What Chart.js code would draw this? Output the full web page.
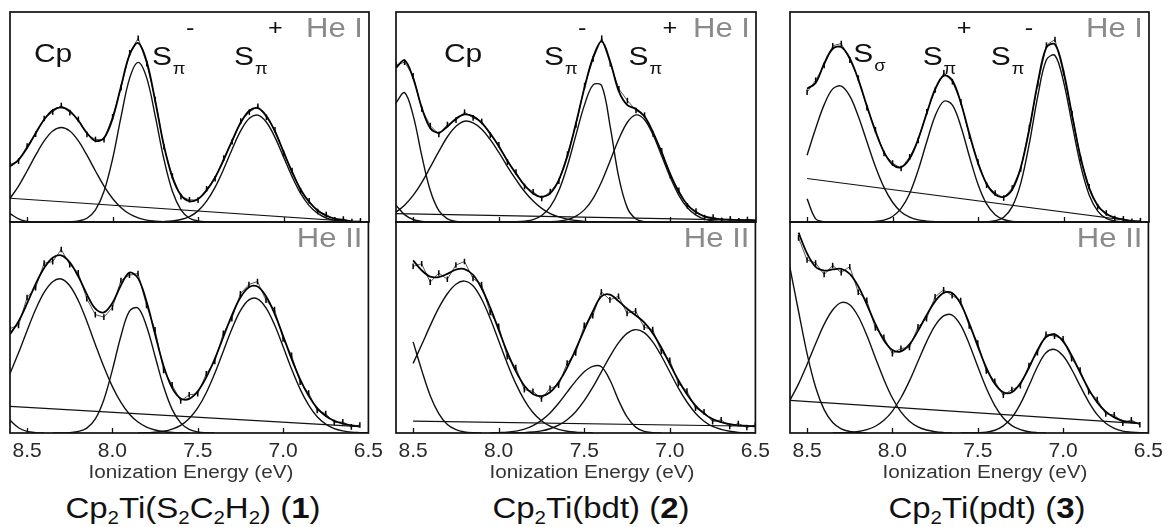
<!DOCTYPE html>
<html>
<head>
<meta charset="utf-8">
<script src="https://cdn.jsdelivr.net/npm/chart.js@4.4.1/dist/chart.umd.min.js"></script>
<style>
  html,body{margin:0;padding:0;background:#fff;}
  body{width:1167px;height:527px;position:relative;overflow:hidden;font-family:"Liberation Sans",Arial,sans-serif;}
  canvas.pc{position:absolute;}
  .ttl{position:absolute;top:463px;font-size:18px;line-height:18px;color:#333;white-space:nowrap;transform:translateX(-50%) scaleX(1.15);}
  .nm{position:absolute;top:493px;font-size:30px;line-height:30px;color:#111;white-space:nowrap;transform:translateX(-50%) scaleX(1.1);}
  .nm sub{font-size:62%;position:relative;top:0.32em;vertical-align:baseline;line-height:0;}
</style>
</head>
<body>
<canvas class="pc" id="c1a"></canvas>
<canvas class="pc" id="c1b"></canvas>
<canvas class="pc" id="c2a"></canvas>
<canvas class="pc" id="c2b"></canvas>
<canvas class="pc" id="c3a"></canvas>
<canvas class="pc" id="c3b"></canvas>
<div class="ttl" style="left:191px">Ionization Energy (eV)</div>
<div class="ttl" style="left:592px">Ionization Energy (eV)</div>
<div class="ttl" style="left:985px">Ionization Energy (eV)</div>
<div class="nm" style="left:193px">Cp<sub>2</sub>Ti(S<sub>2</sub>C<sub>2</sub>H<sub>2</sub>) (<b>1</b>)</div>
<div class="nm" style="left:591px">Cp<sub>2</sub>Ti(bdt) (<b>2</b>)</div>
<div class="nm" style="left:987px">Cp<sub>2</sub>Ti(pdt) (<b>3</b>)</div>
<script>
// ---------- shared axis data ----------
const energies = [8.60,8.55,8.50,8.45,8.40,8.35,8.30,8.25,8.20,8.15,8.10,8.05,8.00,7.95,7.90,7.85,7.80,7.75,7.70,7.65,7.60,7.55,7.50,7.45,7.40,7.35,7.30,7.25,7.20,7.15,7.10,7.05,7.00,6.95,6.90,6.85,6.80,6.75,6.70,6.65,6.60,6.55,6.50];
const tickValues = [8.5, 8.0, 7.5, 7.0, 6.5];
const innerTickValues = [8.5, 8.0, 7.5, 7.0];

// ---------- compound 1, He I ----------
const c1HeI_tail = [4, 1.5, 0.3, 0];
const c1HeI_cp = [11.2,17.1,24.3,31.8,38.6,43.3,45.0,43.3,38.6,31.8,24.3,17.1,11.2,6.8,3.8,2.0,0.9,0.4,0.1,0];
const c1HeI_spiMinus = [null,null,null,null,null,0,0,0.1,0.5,1.8,5.8,14.6,30.0,50.3,68.5,76.0,68.5,50.3,30.0,14.6,5.8,1.8,0.5,0.1,0];
const c1HeI_spiPlus = [null,null,null,null,null,null,null,null,null,null,null,null,null,null,null,null,0,0.1,0.2,0.5,1.2,2.6,5.3,9.9,16.6,25.2,34.8,43.5,49.4,50.9,47.5,40.3,31.0,21.6,13.6,7.8,4.1,1.9,0.8,0.3,0.1,0,0];
const c1HeI_baseE = [8.6, 6.55];
const c1HeI_baseY = [11.3, 0];
const c1HeI_fit = [26.5,29.6,35.3,42.3,48.8,53.2,54.6,52.8,48.2,42.4,38.6,40.0,49.2,64.8,79.7,85.2,76.3,57.4,36.5,21.2,12.8,9.9,11.0,15.0,21.3,29.6,38.9,47.4,53.0,54.2,50.5,43.1,33.5,23.8,15.5,9.5,5.5,3.0,1.6,0.9,0.3,0.0,null];
const c1HeI_data = [27.4,29.0,36.2,41.8,49.3,52.4,55.5,52.1,48.9,41.7,39.3,39.2,50.1,64.0,80.6,87.5,75.4,58.3,35.8,21.9,12.1,10.6,10.4,15.8,20.6,30.4,38.2,48.1,52.3,55.1,49.8,43.9,32.8,24.5,14.9,10.1,5.0,3.6,1.1,1.4,0.2,0.6,null];

// ---------- compound 1, He II ----------
const c1HeII_tail = [6, 2.5, 0.8, 0.2, 0];
const c1HeII_cp = [28.2,38.0,48.5,58.5,66.6,71.7,73.0,69.8,62.8,53.0,42.0,31.4,22.0,14.5,8.9,5.2,2.8,1.4,0.7,0.3,0.1,0];
const c1HeII_spiMinus = [null,null,null,null,null,0,0,0.2,0.7,2.3,6.7,15.8,29.9,46.0,57.8,59.2,50.6,36.4,22.0,11.2,4.8,1.7,0.5,0.1,0];
const c1HeII_spiPlus = [null,null,null,null,null,null,null,null,null,null,null,null,null,null,null,0,0.1,0.4,0.8,1.8,3.6,6.9,11.9,19.1,28.3,38.8,49.3,58.0,63.1,63.6,59.3,51.3,41.0,30.3,20.8,13.2,7.7,4.2,2.1,1.0,0.4,0.2,0.1];
const c1HeII_baseE = [8.6, 6.55];
const c1HeII_baseY = [12.6, 3.0];
const c1HeII_fit = [46.8,52.9,61.4,70.6,78.2,83.1,84.2,80.9,74.2,65.8,58.9,57.2,61.6,70.0,76.0,73.4,62.3,46.8,31.8,21.4,16.4,16.2,19.8,26.4,35.2,45.5,55.8,64.2,69.1,69.4,64.8,56.6,46.1,35.1,25.4,17.6,11.8,8.1,5.8,4.4,3.6,3.1,null];
const c1HeII_data = [49.5,51.0,64.2,68.9,80.5,81.2,87.0,79.8,75.9,63.6,56.1,54.9,59.4,72.3,74.8,75.6,60.5,48.9,29.7,22.8,15.2,18.1,18.6,28.0,33.9,47.3,54.2,66.0,70.4,71.8,62.9,58.5,44.6,36.8,24.1,18.9,10.7,9.2,4.9,5.3,2.9,3.8,null];

// ---------- compound 2, He I ----------
const c2HeI_tail = [8, 3.5, 1.2, 0.3, 0];
const c2HeI_high = [56.7,61.6,50.8,31.7,15.0,5.4,1.5,0.3,0];
const c2HeI_cp = [4.7,8.0,12.7,18.8,26.1,33.6,40.6,45.6,48.0,47.2,44.2,39.2,33.1,26.4,20.2,14.5,10.0,6.5,4.0,2.4,1.3,0.7,0.3,0.1,0];
const c2HeI_spiMinus = [null,null,null,null,null,null,null,null,null,null,null,null,null,0,0.1,0.4,1.1,3.1,7.3,15.0,26.8,41.5,55.9,65.3,64.9,45.2,21.1,6.6,1.4,0.2,0];
const c2HeI_spiPlus = [null,null,null,null,null,null,null,null,null,null,null,null,null,null,null,null,null,0,0.1,0.4,1.1,2.8,5.9,11.3,19.3,29.3,39.5,47.5,51.0,48.7,41.4,31.4,21.2,12.7,6.8,3.3,1.4,0.5,0.2,0];
const c2HeI_baseE = [8.6, 6.5];
const c2HeI_baseY = [4.0, 0.8];
const c2HeI_fit = [73.4,77.0,68.5,54.5,44.7,42.5,45.5,49.2,51.2,50.3,47.2,42.1,36.0,29.2,23.0,17.5,13.6,12.0,13.7,20.1,31.4,47.1,64.1,78.5,86.0,76.2,62.2,55.6,53.8,50.2,42.6,33.0,22.8,14.2,8.2,4.6,2.7,1.7,1.3,1.0,1.0,0.9,0.8];
const c2HeI_data = [74.8,76.1,69.6,53.8,45.9,41.7,46.4,48.5,52.3,49.6,47.9,41.4,36.8,28.5,23.8,16.9,14.4,11.2,14.5,19.4,32.3,46.2,65.0,77.6,87.5,75.3,63.4,57.8,53.1,50.9,41.8,33.9,22.0,15.1,7.6,5.2,2.1,2.3,0.8,1.5,0.6,1.2,0.5];

// ---------- compound 2, He II ----------
const c2HeII_high = [null,null,43.2,29.8,17.7,9.2,4.0,1.6,0.5,0.1,0];
const c2HeII_cp = [null,null,33.0,41.8,50.9,59.3,66.0,70.5,72.0,69.8,63.5,54.4,43.7,33.0,23.4,15.6,9.7,5.8,3.2,1.7,0.8,0.4,0.2,0];
const c2HeII_spiMinus = [null,null,null,null,null,null,null,null,null,null,null,0,0.2,0.4,0.9,1.8,3.5,6.0,9.5,14.1,19.4,24.6,29.0,31.6,31.4,25.1,15.6,7.6,2.8,0.8,0.2,0];
const c2HeII_spiPlus = [null,null,null,null,null,null,null,null,null,null,null,null,null,0,0.1,0.2,0.5,1.0,2.0,3.7,6.3,10.1,15.3,21.7,29.0,36.3,42.7,47.2,49.0,47.6,43.2,36.6,28.9,21.3,14.7,9.4,5.6,3.1,1.7,0.8,0.3,0.1,0];
const c2HeII_baseE = [8.5, 6.5];
const c2HeII_baseY = [5.6, 3.2];
const c2HeII_fit = [null,null,81.8,77.1,74.1,73.9,75.4,77.4,77.7,75.0,68.6,59.5,48.9,38.3,29.3,22.4,18.5,17.5,19.3,24.1,31.0,39.6,48.9,57.6,64.7,65.6,62.5,58.9,55.8,52.4,47.3,40.5,32.7,25.0,18.4,13.0,9.2,6.6,5.1,4.2,3.6,3.4,3.2];
const c2HeII_data = [null,null,79.0,80.2,71.5,75.8,72.9,79.6,81.3,73.2,70.4,57.1,50.6,36.2,31.0,20.5,19.8,16.1,21.2,22.6,33.1,37.9,51.0,55.6,66.9,63.1,64.8,56.7,57.9,50.1,49.0,38.6,34.5,23.4,19.9,11.8,10.1,5.4,6.2,3.1,4.5,2.6,3.9];

// ---------- compound 3, He I ----------
const c3HeI_edge = [null,null,11,1.5,0];
const c3HeI_sSigma = [null,null,31.8,44.5,55.9,63.4,64.7,59.9,50.2,38.2,26.3,16.5,9.4,4.8,2.3,1.0,0.4,0.1,0];
const c3HeI_spiPlus = [null,null,null,null,null,null,null,null,null,0,0.3,0.9,2.6,6.5,13.6,24.7,38.2,50.7,57.5,55.7,45.4,31.1,17.9,8.6,3.5,1.2,0.3,0.1,0];
const c3HeI_spiMinus = [null,null,null,null,null,null,null,null,null,null,null,null,null,null,null,null,null,null,null,null,null,null,0,0.1,0.6,2.3,7.3,18.5,37.4,60.2,77.3,79.3,66.9,46.7,27.0,12.9,5.2,1.7,0.5,0.1,0];
const c3HeI_baseE = [8.5, 6.55];
const c3HeI_baseY = [20.7, 0];
const c3HeI_fit = [null,null,63.5,66.2,75.5,82.5,83.3,77.9,67.7,55.2,43.1,33.3,27.4,26.1,30.2,39.5,51.8,63.5,69.7,67.4,56.5,41.7,28.0,18.2,13.1,12.0,15.5,26.0,44.3,66.6,83.1,84.6,71.7,50.9,30.7,16.1,7.8,3.8,2.1,1.1,0.5,0.2,null];
const c3HeI_data = [null,null,61.8,67.5,74.6,83.9,85.0,77.1,68.5,54.4,43.9,32.6,28.1,25.5,31.0,38.8,52.5,62.9,71.0,66.8,57.2,40.9,28.6,17.5,13.8,11.4,16.2,25.3,45.0,65.9,84.2,86.9,71.0,51.6,30.1,16.8,7.2,4.3,1.6,1.5,0.3,0.6,null];

// ---------- compound 3, He II ----------
const c3HeII_high = [78.3,57.7,37.6,21.7,11.1,5.0,2.0,0.7,0.2,0];
const c3HeII_sSigma = [15.6,23.3,32.5,42.3,51.5,58.3,61.8,60.8,55.2,46.3,35.7,25.4,16.6,10.0,5.6,2.9,1.4,0.6,0.2,0];
const c3HeII_spiPlus = [null,null,null,null,null,0,0.1,0.3,0.7,1.6,3.2,6.0,10.4,16.7,24.7,34.0,43.2,50.9,55.5,55.9,51.1,42.2,31.5,21.3,13.0,7.1,3.5,1.6,0.6,0.2,0];
const c3HeII_spiMinus = [null,null,null,null,null,null,null,null,null,null,null,null,null,null,null,null,null,null,null,null,0,0,0.1,0.4,1.3,3.4,7.3,13.8,22.4,31.4,38.0,39.6,36.6,30.2,22.3,14.8,8.7,4.6,2.2,0.9,0.4,0.1,0];
const c3HeII_baseE = [8.6, 6.55];
const c3HeII_baseY = [15.5, 4.4];
const c3HeII_fit = [null,95.0,85.1,78.7,77.0,77.5,77.8,75.4,69.5,61.0,51.7,44.0,39.3,38.7,42.0,48.4,55.8,62.4,66.4,66.3,61.2,52.0,41.2,31.0,23.3,19.3,19.3,23.6,30.9,39.3,45.4,46.7,43.4,36.8,28.6,20.8,14.5,10.1,7.4,5.8,5.1,4.5,null];
const c3HeII_data = [null,92.5,82.0,80.6,75.1,79.4,76.0,78.8,66.7,62.9,49.8,45.3,37.6,40.1,40.5,50.3,54.2,64.5,67.9,65.1,62.8,50.7,42.6,29.4,24.5,17.9,20.6,22.4,32.0,38.1,46.8,45.9,44.7,35.2,29.8,19.6,15.9,9.0,8.6,4.7,6.2,3.9,null];

// ---------- drawing ----------
const FONT = '"Liberation Sans", Arial, sans-serif';
const SX = 1.15; // horizontal stretch of the original lettering
const INK = '#111';

function pts(values) {
  return energies.map((e, i) => ({ x: e, y: (values[i] === undefined ? null : values[i]) }));
}
function curve(values) {
  return { data: pts(values), borderColor: INK, borderWidth: 1.4, pointRadius: 0, tension: 0.35, fill: false, spanGaps: false };
}
function envelope(values) {
  return { data: pts(values), borderColor: '#000', borderWidth: 1.8, pointRadius: 0, tension: 0.35, fill: false, spanGaps: false };
}
function baseline(E, Y) {
  return { data: E.map((e, i) => ({ x: e, y: Y[i] })), borderColor: INK, borderWidth: 1.2, pointRadius: 0, tension: 0, fill: false };
}
function measured(values) {
  return { data: pts(values), showLine: true, borderColor: 'rgba(0,0,0,0.75)', borderWidth: 0.9, tension: 0,
           pointStyle: 'line', pointRadius: 2.8, pointRotation: 90,
           pointBorderWidth: 1.5, pointBorderColor: '#000', pointBackgroundColor: '#000' };
}

function stretched(ctx, txt, x, y, size, color, align) {
  ctx.save();
  ctx.font = size + 'px ' + FONT;
  ctx.fillStyle = color;
  ctx.textBaseline = 'alphabetic';
  ctx.textAlign = align || 'left';
  ctx.translate(x, y);
  ctx.scale(SX, 1);
  ctx.fillText(txt, 0, 0);
  const w = ctx.measureText(txt).width * SX;
  ctx.restore();
  return w;
}

const panelPlugin = {
  id: 'panel',
  afterDatasetsDraw(chart, args, opts) {
    const { ctx, chartArea: a, scales: { x } } = chart;
    ctx.save();
    ctx.strokeStyle = INK;
    ctx.lineWidth = 1.7;
    ctx.strokeRect(a.left, a.top, a.right - a.left, a.bottom - a.top);
    ctx.lineWidth = 1.3;
    innerTickValues.forEach(v => {
      const px = Math.round(x.getPixelForValue(v)) + 0.5;
      ctx.beginPath(); ctx.moveTo(px, a.bottom); ctx.lineTo(px, a.bottom - 5); ctx.stroke();
    });
    ctx.restore();
  },
  afterDraw(chart, args, opts) {
    const { ctx, chartArea: a, scales: { x, y } } = chart;
    if (opts.beam) stretched(ctx, opts.beam, a.right - 6, a.top + 25, 27, '#8a8a8a', 'right');
    (opts.labels || []).forEach(l => {
      const px = x.getPixelForValue(l.e), py = y.getPixelForValue(l.v);
      const w = stretched(ctx, l.t, px, py, 26, INK);
      if (l.sub) stretched(ctx, l.sub, px + w + 1, py + 9, 16, INK);
      if (l.sup) stretched(ctx, l.sup, px + 34, py - 30, 22, INK);
    });
  }
};

const cols = [{ l: 10, r: 369 }, { l: 396, r: 756 }, { l: 790, r: 1149 }];

function makePanel(id, col, bottomRow, datasets, beam, labels) {
  const c = cols[col];
  const cv = document.getElementById(id);
  const w = (c.r - c.l) + 40;
  const h = bottomRow ? 260 : 232;
  cv.width = w; cv.height = h;
  cv.style.width = w + 'px'; cv.style.height = h + 'px';
  cv.style.left = (c.l - 20) + 'px';
  cv.style.top = (bottomRow ? 212 : 0) + 'px';
  const xScale = {
    type: 'linear', min: 6.5, max: 8.6, reverse: true, display: bottomRow,
    grid: { display: false, drawTicks: false }, border: { display: false },
    ticks: { color: '#2a2a2a', padding: 6, maxRotation: 0, autoSkip: false,
             font: { family: FONT, size: 21 }, callback: v => Number(v).toFixed(1) },
    afterBuildTicks: s => { s.ticks = tickValues.map(v => ({ value: v })); }
  };
  if (bottomRow) xScale.afterFit = s => { s.height = 30; };
  new Chart(cv, {
    type: 'line',
    data: { datasets },
    options: {
      responsive: false, animation: false, events: [],
      layout: { padding: bottomRow ? { left: 20, right: 20, top: 10, bottom: 9 } : { left: 20, right: 20, top: 12, bottom: 10 } },
      scales: {
        x: xScale,
        y: { type: 'linear', min: 0, max: 100, display: false }
      },
      plugins: { legend: { display: false }, tooltip: { enabled: false }, panel: { beam, labels } }
    },
    plugins: [panelPlugin]
  });
}

makePanel('c1a', 0, false, [
  curve(c1HeI_tail), curve(c1HeI_cp), curve(c1HeI_spiMinus), curve(c1HeI_spiPlus),
  baseline(c1HeI_baseE, c1HeI_baseY), envelope(c1HeI_fit), measured(c1HeI_data)
], 'He I', [
  { t: 'Cp', e: 8.46, v: 76 },
  { t: 'S', sub: 'π', sup: '-', e: 7.77, v: 75 },
  { t: 'S', sub: 'π', sup: '+', e: 7.29, v: 75 }
]);
makePanel('c1b', 0, true, [
  curve(c1HeII_tail), curve(c1HeII_cp), curve(c1HeII_spiMinus), curve(c1HeII_spiPlus),
  baseline(c1HeII_baseE, c1HeII_baseY), envelope(c1HeII_fit), measured(c1HeII_data)
], 'He II', []);

makePanel('c2a', 1, false, [
  curve(c2HeI_tail), curve(c2HeI_high), curve(c2HeI_cp), curve(c2HeI_spiMinus), curve(c2HeI_spiPlus),
  baseline(c2HeI_baseE, c2HeI_baseY), envelope(c2HeI_fit), measured(c2HeI_data)
], 'He I', [
  { t: 'Cp', e: 8.32, v: 76 },
  { t: 'S', sub: 'π', sup: '-', e: 7.736, v: 75 },
  { t: 'S', sub: 'π', sup: '+', e: 7.244, v: 75 }
]);
makePanel('c2b', 1, true, [
  curve(c2HeII_high), curve(c2HeII_cp), curve(c2HeII_spiMinus), curve(c2HeII_spiPlus),
  baseline(c2HeII_baseE, c2HeII_baseY), envelope(c2HeII_fit), measured(c2HeII_data)
], 'He II', []);

makePanel('c3a', 2, false, [
  curve(c3HeI_edge), curve(c3HeI_sSigma), curve(c3HeI_spiPlus), curve(c3HeI_spiMinus),
  baseline(c3HeI_baseE, c3HeI_baseY), envelope(c3HeI_fit), measured(c3HeI_data)
], 'He I', [
  { t: 'S', sub: 'σ', e: 8.23, v: 76 },
  { t: 'S', sub: 'π', sup: '+', e: 7.824, v: 75 },
  { t: 'S', sub: 'π', sup: '-', e: 7.426, v: 75 }
]);
makePanel('c3b', 2, true, [
  curve(c3HeII_high), curve(c3HeII_sSigma), curve(c3HeII_spiPlus), curve(c3HeII_spiMinus),
  baseline(c3HeII_baseE, c3HeII_baseY), envelope(c3HeII_fit), measured(c3HeII_data)
], 'He II', []);
</script>
</body>
</html>
